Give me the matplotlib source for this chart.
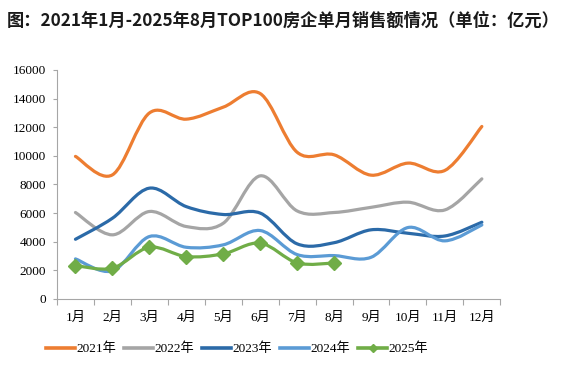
import numpy as np
import matplotlib
matplotlib.use("Agg")
import matplotlib.pyplot as plt
from matplotlib.path import Path
from matplotlib.patches import PathPatch
from matplotlib.lines import Line2D

months = ["1月", "2月", "3月", "4月", "5月", "6月", "7月", "8月", "9月", "10月", "11月", "12月"]
y2021 = [9960, 8670, 12990, 12560, 13400, 14350, 10250, 10070, 8650, 9490, 8980, 12050]
y2022 = [6040, 4480, 6110, 5060, 5290, 8600, 6150, 6040, 6400, 6760, 6220, 8390]
y2023 = [4170, 5640, 7740, 6450, 5900, 6000, 3850, 3930, 4830, 4590, 4400, 5360]
y2024 = [2800, 1960, 4360, 3610, 3780, 4780, 3100, 3030, 2910, 4990, 4060, 5170]
y2025 = [2330, 2150, 3610, 2960, 3150, 3900, 2520, 2510]

years = ["2021年", "2022年", "2023年", "2024年", "2025年"]
series = [y2021, y2022, y2023, y2024, y2025]
colors = ["#ED7D31", "#A5A5A5", "#2B6AA8", "#5B9BD5", "#70AD47"]

label_font = ["Liberation Serif", "Noto Sans CJK SC"]


def smooth_path(xs, ys):
    # Excel-style smoothed line as cubic bezier segments
    pts = np.column_stack([xs, ys]).astype(float)
    n = len(pts)
    verts = [pts[0]]
    codes = [Path.MOVETO]
    for i in range(n - 1):
        p0 = pts[max(i - 1, 0)]
        p1 = pts[i]
        p2 = pts[i + 1]
        p3 = pts[min(i + 2, n - 1)]
        c1 = p1 + (p2 - p0) / 6.0
        c2 = p2 - (p3 - p1) / 6.0
        verts += [c1, c2, p2]
        codes += [Path.CURVE4] * 3
    return Path(verts, codes)


fig = plt.figure(figsize=(5.78, 3.70), dpi=100)
ax = fig.add_axes([0.0986, 0.192, 0.767, 0.619])

x = np.arange(1, 13)
for vals, c in zip(series, colors):
    xs = x[:len(vals)]
    p = smooth_path(xs, vals)
    ax.add_patch(PathPatch(p, facecolor="none", edgecolor=c, lw=2.3,
                           capstyle="round", joinstyle="round"))

ax.plot(x[:len(y2025)], y2025, linestyle="none", marker="D", ms=7,
        color=colors[4])

ax.set_xlim(0.5, 12.5)
ax.set_ylim(0, 16000)
ax.set_yticks(np.arange(0, 16001, 2000))
ax.set_yticklabels([str(v) for v in range(0, 16001, 2000)],
                   family=label_font, fontsize=9.5)
ax.set_xticks(np.arange(0.5, 12.6, 1))
ax.set_xticklabels([])
ax.set_xticks(x, minor=True)
ax.set_xticklabels(months, minor=True, family=label_font, fontsize=9.5)
ax.tick_params(axis="x", which="major", length=4, color="#A6A6A6", direction="out")
ax.tick_params(axis="x", which="minor", length=0, pad=9)
ax.tick_params(axis="y", length=3, color="#A6A6A6", pad=5)

for s in ["top", "right"]:
    ax.spines[s].set_visible(False)
ax.spines["left"].set_color("#A6A6A6")
ax.spines["bottom"].set_color("#A6A6A6")

handles = []
for i, (yr, c) in enumerate(zip(years, colors)):
    if i == 4:
        h = Line2D([], [], color=c, lw=2.6, marker="D", ms=4)
    else:
        h = Line2D([], [], color=c, lw=2.6)
    handles.append(h)
fig.legend(handles, years, loc="center", bbox_to_anchor=(0.41, 0.057), ncol=5,
           frameon=False, handlelength=2.2, handletextpad=0.1, columnspacing=0.6,
           prop={"family": label_font, "size": 9.5})

fig.text(0.012, 0.945, "图：2021年1月-2025年8月TOP100房企单月销售额情况（单位：亿元）",
         family=["Noto Sans CJK SC", "DejaVu Sans"], fontweight="bold",
         fontsize=12.4, color="#1a1a1a", va="center", ha="left")

fig.savefig("out.png", dpi=100)
